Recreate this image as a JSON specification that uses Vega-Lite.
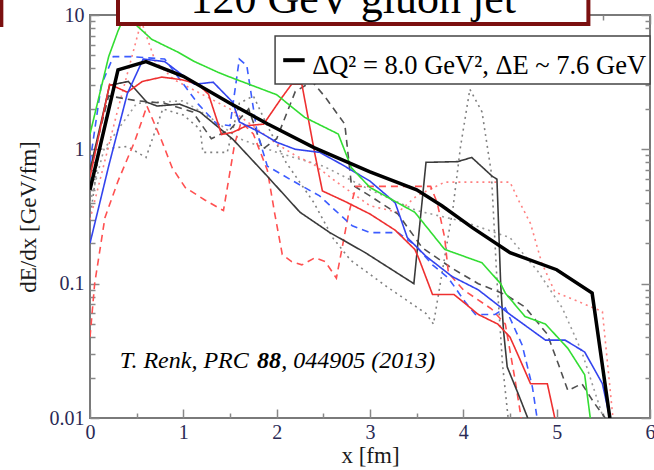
{
  "$schema": "https://vega.github.io/schema/vega-lite/v6.json",
  "width": 560,
  "height": 403,
  "autosize": {"type": "none"},
  "padding": {"left": 90, "top": 15, "right": 4, "bottom": 52},
  "background": "white",
  "config": {
    "font": "Liberation Serif, Times New Roman, serif",
    "view": {"stroke": "#7a7a7a", "strokeWidth": 2},
    "axis": {
      "domain": false, "grid": false, "tickColor": "#888888", "tickWidth": 1.5,
      "labelFont": "Liberation Serif, Times New Roman, serif", "labelFontSize": 20, "labelColor": "#2a2a55",
      "titleFont": "Liberation Serif, Times New Roman, serif", "titleFontSize": 23, "titleFontWeight": "normal", "titleColor": "#1a1a1a",
      "labelOverlap": false, "labelFlush": false, "labelBound": false
    }
  },
  "datasets": {
    "curves": [
      {"s":"graydot2","x":0,"y":0.4},{"s":"graydot2","x":0.15,"y":1.0},{"s":"graydot2","x":0.5,"y":2.2},{"s":"graydot2","x":1.0,"y":2.3},{"s":"graydot2","x":1.3,"y":1.7},{"s":"graydot2","x":1.6,"y":1.2},{"s":"graydot2","x":2.0,"y":0.95},{"s":"graydot2","x":2.5,"y":0.75},{"s":"graydot2","x":3.0,"y":0.5},{"s":"graydot2","x":3.5,"y":0.35},{"s":"graydot2","x":4.0,"y":0.29},{"s":"graydot2","x":4.5,"y":0.22},{"s":"graydot2","x":4.8,"y":0.123},{"s":"graydot2","x":5.06,"y":0.066},{"s":"graydot2","x":5.27,"y":0.031},{"s":"graydot2","x":5.49,"y":0.0105},
      {"s":"graydot1","x":0,"y":0.3},{"s":"graydot1","x":0.1,"y":1.0},{"s":"graydot1","x":0.4,"y":1.05},{"s":"graydot1","x":0.6,"y":0.87},{"s":"graydot1","x":0.78,"y":2.0},{"s":"graydot1","x":1.0,"y":1.8},{"s":"graydot1","x":1.18,"y":1.41},{"s":"graydot1","x":1.21,"y":0.95},{"s":"graydot1","x":1.47,"y":0.95},{"s":"graydot1","x":1.6,"y":2.2},{"s":"graydot1","x":1.75,"y":2.5},{"s":"graydot1","x":1.9,"y":1.5},{"s":"graydot1","x":2.1,"y":0.8},{"s":"graydot1","x":2.4,"y":0.4},{"s":"graydot1","x":2.6,"y":0.22},{"s":"graydot1","x":2.79,"y":0.15},{"s":"graydot1","x":3.18,"y":0.095},{"s":"graydot1","x":3.6,"y":0.06},{"s":"graydot1","x":3.68,"y":0.05},{"s":"graydot1","x":3.89,"y":0.37},{"s":"graydot1","x":3.97,"y":1.05},{"s":"graydot1","x":4.07,"y":2.8},{"s":"graydot1","x":4.2,"y":1.9},{"s":"graydot1","x":4.3,"y":0.67},{"s":"graydot1","x":4.36,"y":0.107},{"s":"graydot1","x":4.42,"y":0.025},{"s":"graydot1","x":4.48,"y":0.01},
      {"s":"pinkdot","x":0,"y":0.3},{"s":"pinkdot","x":0.3,"y":2.0},{"s":"pinkdot","x":0.55,"y":9.0},{"s":"pinkdot","x":0.7,"y":4.5},{"s":"pinkdot","x":0.9,"y":3.3},{"s":"pinkdot","x":1.5,"y":2.0},{"s":"pinkdot","x":2.0,"y":1.1},{"s":"pinkdot","x":2.2,"y":0.9},{"s":"pinkdot","x":2.4,"y":0.77},{"s":"pinkdot","x":2.6,"y":0.6},{"s":"pinkdot","x":3.0,"y":0.38},{"s":"pinkdot","x":3.3,"y":0.34},{"s":"pinkdot","x":3.5,"y":0.45},{"s":"pinkdot","x":3.8,"y":0.57},{"s":"pinkdot","x":4.5,"y":0.57},{"s":"pinkdot","x":4.59,"y":0.42},{"s":"pinkdot","x":4.72,"y":0.28},{"s":"pinkdot","x":4.84,"y":0.143},{"s":"pinkdot","x":4.98,"y":0.087},{"s":"pinkdot","x":5.49,"y":0.062},{"s":"pinkdot","x":5.6,"y":0.0105},
      {"s":"graydash","x":0,"y":0.7},{"s":"graydash","x":0.2,"y":2.5},{"s":"graydash","x":0.5,"y":2.3},{"s":"graydash","x":0.8,"y":2.2},{"s":"graydash","x":1.1,"y":1.9},{"s":"graydash","x":1.3,"y":1.2},{"s":"graydash","x":1.5,"y":1.4},{"s":"graydash","x":1.7,"y":2.0},{"s":"graydash","x":1.85,"y":1.0},{"s":"graydash","x":2.0,"y":1.2},{"s":"graydash","x":2.2,"y":2.7},{"s":"graydash","x":2.38,"y":3.2},{"s":"graydash","x":2.52,"y":2.45},{"s":"graydash","x":2.73,"y":1.54},{"s":"graydash","x":2.8,"y":0.55},{"s":"graydash","x":3.0,"y":0.45},{"s":"graydash","x":3.3,"y":0.33},{"s":"graydash","x":3.56,"y":0.185},{"s":"graydash","x":3.88,"y":0.13},{"s":"graydash","x":4.16,"y":0.1},{"s":"graydash","x":4.45,"y":0.083},{"s":"graydash","x":4.66,"y":0.067},{"s":"graydash","x":4.9,"y":0.042},{"s":"graydash","x":5.02,"y":0.025},{"s":"graydash","x":5.12,"y":0.016},{"s":"graydash","x":5.27,"y":0.018},{"s":"graydash","x":5.4,"y":0.013},{"s":"graydash","x":5.52,"y":0.01},
      {"s":"reddash","x":0,"y":0.04},{"s":"reddash","x":0.05,"y":0.1},{"s":"reddash","x":0.16,"y":0.31},{"s":"reddash","x":0.3,"y":0.58},{"s":"reddash","x":0.48,"y":1.15},{"s":"reddash","x":0.61,"y":2.1},{"s":"reddash","x":0.77,"y":1.15},{"s":"reddash","x":0.88,"y":0.73},{"s":"reddash","x":1.02,"y":0.52},{"s":"reddash","x":1.23,"y":0.42},{"s":"reddash","x":1.43,"y":0.35},{"s":"reddash","x":1.55,"y":1.1},{"s":"reddash","x":1.62,"y":1.6},{"s":"reddash","x":1.75,"y":1.3},{"s":"reddash","x":1.9,"y":0.7},{"s":"reddash","x":1.98,"y":0.33},{"s":"reddash","x":2.06,"y":0.165},{"s":"reddash","x":2.16,"y":0.146},{"s":"reddash","x":2.27,"y":0.138},{"s":"reddash","x":2.41,"y":0.156},{"s":"reddash","x":2.52,"y":0.146},{"s":"reddash","x":2.64,"y":0.11},{"s":"reddash","x":2.77,"y":0.33},{"s":"reddash","x":2.85,"y":0.53},{"s":"reddash","x":3.1,"y":0.53},{"s":"reddash","x":3.65,"y":0.53},{"s":"reddash","x":3.72,"y":0.4},{"s":"reddash","x":3.8,"y":0.22},{"s":"reddash","x":3.84,"y":0.12},{"s":"reddash","x":4.0,"y":0.09},{"s":"reddash","x":4.3,"y":0.065},{"s":"reddash","x":4.45,"y":0.05},{"s":"reddash","x":4.55,"y":0.02},{"s":"reddash","x":4.62,"y":0.01},
      {"s":"bluedash","x":0,"y":0.8},{"s":"bluedash","x":0.12,"y":3.0},{"s":"bluedash","x":0.25,"y":4.9},{"s":"bluedash","x":0.45,"y":4.9},{"s":"bluedash","x":0.8,"y":4.7},{"s":"bluedash","x":0.98,"y":3.2},{"s":"bluedash","x":1.16,"y":2.17},{"s":"bluedash","x":1.36,"y":1.54},{"s":"bluedash","x":1.5,"y":1.5},{"s":"bluedash","x":1.6,"y":4.7},{"s":"bluedash","x":1.68,"y":4.2},{"s":"bluedash","x":1.79,"y":1.34},{"s":"bluedash","x":1.9,"y":0.75},{"s":"bluedash","x":2.14,"y":0.6},{"s":"bluedash","x":2.46,"y":0.45},{"s":"bluedash","x":2.63,"y":0.35},{"s":"bluedash","x":2.81,"y":0.27},{"s":"bluedash","x":3.0,"y":0.24},{"s":"bluedash","x":3.3,"y":0.24},{"s":"bluedash","x":3.41,"y":0.21},{"s":"bluedash","x":3.48,"y":0.195},{"s":"bluedash","x":3.67,"y":0.138},{"s":"bluedash","x":3.84,"y":0.11},{"s":"bluedash","x":4.02,"y":0.073},{"s":"bluedash","x":4.13,"y":0.059},{"s":"bluedash","x":4.34,"y":0.059},{"s":"bluedash","x":4.45,"y":0.066},{"s":"bluedash","x":4.63,"y":0.035},{"s":"bluedash","x":4.74,"y":0.017},{"s":"bluedash","x":4.79,"y":0.01},
      {"s":"black","x":0,"y":0.7},{"s":"black","x":0.21,"y":3.0},{"s":"black","x":0.41,"y":3.2},{"s":"black","x":0.61,"y":2.24},{"s":"black","x":0.72,"y":2.1},{"s":"black","x":0.96,"y":2.17},{"s":"black","x":1.18,"y":1.89},{"s":"black","x":1.53,"y":1.19},{"s":"black","x":1.9,"y":0.63},{"s":"black","x":2.25,"y":0.34},{"s":"black","x":2.57,"y":0.24},{"s":"black","x":2.95,"y":0.17},{"s":"black","x":3.47,"y":0.1},{"s":"black","x":3.6,"y":0.8},{"s":"black","x":3.94,"y":0.81},{"s":"black","x":4.09,"y":0.87},{"s":"black","x":4.31,"y":0.63},{"s":"black","x":4.36,"y":0.6},{"s":"black","x":4.4,"y":0.1},{"s":"black","x":4.43,"y":0.045},{"s":"black","x":4.47,"y":0.024},{"s":"black","x":4.59,"y":0.015},{"s":"black","x":4.69,"y":0.01},
      {"s":"red","x":0,"y":0.62},{"s":"red","x":0.21,"y":3.05},{"s":"red","x":0.4,"y":2.66},{"s":"red","x":0.56,"y":3.2},{"s":"red","x":0.77,"y":3.45},{"s":"red","x":0.98,"y":3.3},{"s":"red","x":1.16,"y":3.05},{"s":"red","x":1.27,"y":2.57},{"s":"red","x":1.41,"y":1.29},{"s":"red","x":1.53,"y":1.34},{"s":"red","x":1.68,"y":1.5},{"s":"red","x":1.86,"y":1.54},{"s":"red","x":2.05,"y":2.4},{"s":"red","x":2.16,"y":3.05},{"s":"red","x":2.27,"y":3.05},{"s":"red","x":2.41,"y":0.92},{"s":"red","x":2.49,"y":0.49},{"s":"red","x":2.73,"y":0.41},{"s":"red","x":3.0,"y":0.33},{"s":"red","x":3.27,"y":0.25},{"s":"red","x":3.48,"y":0.18},{"s":"red","x":3.52,"y":0.156},{"s":"red","x":3.67,"y":0.083},{"s":"red","x":3.9,"y":0.083},{"s":"red","x":4.0,"y":0.073},{"s":"red","x":4.16,"y":0.059},{"s":"red","x":4.37,"y":0.05},{"s":"red","x":4.5,"y":0.04},{"s":"red","x":4.59,"y":0.029},{"s":"red","x":4.72,"y":0.018},{"s":"red","x":4.9,"y":0.018},{"s":"red","x":4.98,"y":0.01},
      {"s":"blue","x":0,"y":0.2},{"s":"blue","x":0.2,"y":0.75},{"s":"blue","x":0.4,"y":2.6},{"s":"blue","x":0.57,"y":4.7},{"s":"blue","x":0.8,"y":4.5},{"s":"blue","x":1.12,"y":3.05},{"s":"blue","x":1.32,"y":3.16},{"s":"blue","x":1.53,"y":2.24},{"s":"blue","x":1.6,"y":1.6},{"s":"blue","x":1.82,"y":1.34},{"s":"blue","x":2.0,"y":1.13},{"s":"blue","x":2.2,"y":1.0},{"s":"blue","x":2.46,"y":0.95},{"s":"blue","x":2.7,"y":0.77},{"s":"blue","x":3.0,"y":0.58},{"s":"blue","x":3.27,"y":0.4},{"s":"blue","x":3.4,"y":0.22},{"s":"blue","x":3.6,"y":0.16},{"s":"blue","x":3.88,"y":0.113},{"s":"blue","x":4.16,"y":0.09},{"s":"blue","x":4.5,"y":0.059},{"s":"blue","x":4.88,"y":0.038},{"s":"blue","x":5.09,"y":0.038},{"s":"blue","x":5.3,"y":0.031},{"s":"blue","x":5.49,"y":0.018},{"s":"blue","x":5.57,"y":0.01},
      {"s":"green","x":0,"y":1.3},{"s":"green","x":0.2,"y":4.9},{"s":"green","x":0.3,"y":7.6},{"s":"green","x":0.4,"y":11},{"s":"green","x":0.48,"y":8.6},{"s":"green","x":0.66,"y":6.6},{"s":"green","x":0.94,"y":5.3},{"s":"green","x":1.12,"y":4.5},{"s":"green","x":1.37,"y":3.75},{"s":"green","x":1.5,"y":3.45},{"s":"green","x":2.0,"y":2.55},{"s":"green","x":2.3,"y":1.73},{"s":"green","x":2.66,"y":1.3},{"s":"green","x":2.8,"y":0.73},{"s":"green","x":3.0,"y":0.52},{"s":"green","x":3.48,"y":0.34},{"s":"green","x":3.8,"y":0.18},{"s":"green","x":4.2,"y":0.143},{"s":"green","x":4.4,"y":0.1},{"s":"green","x":4.45,"y":0.085},{"s":"green","x":4.66,"y":0.057},{"s":"green","x":4.88,"y":0.05},{"s":"green","x":5.12,"y":0.033},{"s":"green","x":5.3,"y":0.021},{"s":"green","x":5.36,"y":0.01},
      {"s":"thick","x":0,"y":0.5},{"s":"thick","x":0.3,"y":3.9},{"s":"thick","x":0.6,"y":4.5},{"s":"thick","x":1.0,"y":3.5},{"s":"thick","x":1.5,"y":2.2},{"s":"thick","x":1.9,"y":1.55},{"s":"thick","x":2.4,"y":1.03},{"s":"thick","x":3.0,"y":0.68},{"s":"thick","x":3.5,"y":0.5},{"s":"thick","x":3.77,"y":0.38},{"s":"thick","x":4.1,"y":0.26},{"s":"thick","x":4.5,"y":0.17},{"s":"thick","x":5.0,"y":0.127},{"s":"thick","x":5.38,"y":0.085},{"s":"thick","x":5.57,"y":0.01}
    ]
  },
  "resolve": {"axis": {"x": "independent", "y": "independent"}},
  "layer": [
    {
      "data": {"name": "curves"},
      "transform": [{"filter": "datum.s !== 'thick'"}],
      "mark": {"type": "line", "clip": true},
      "encoding": {
        "x": {"field": "x", "type": "quantitative", "scale": {"domain": [0, 6], "nice": false, "zero": false},
              "axis": {"orient": "bottom", "values": [0,1,2,3,4,5,6], "offset": -9, "tickSize": 9, "labelPadding": 4, "title": "x [fm]", "titlePadding": 2, "labelOverlap": false}},
        "y": {"field": "y", "type": "quantitative", "scale": {"type": "log", "domain": [0.01, 10], "nice": false},
              "axis": {"orient": "left", "values": [0.01, 0.1, 1, 10], "offset": -9, "tickSize": 9, "labelPadding": 6, "labelExpr": "datum.value + ''", "labelOverlap": false, "title": "dE/dx [GeV/fm]", "titlePadding": 9}},
        "color": {"field": "s", "type": "nominal", "legend": null,
                  "scale": {"domain": ["graydot2","graydot1","pinkdot","graydash","reddash","bluedash","black","red","blue","green"],
                            "range": ["#999999","#808080","#ff8080","#505050","#ff5050","#3c5cff","#3a3a3a","#ee3030","#3344ee","#33dd33"]}},
        "strokeDash": {"field": "s", "type": "nominal", "legend": null,
                  "scale": {"domain": ["graydot2","graydot1","pinkdot","graydash","reddash","bluedash","black","red","blue","green"],
                            "range": [[2,4],[2,4],[2,4],[7,5],[7,5],[7,5],[1,0],[1,0],[1,0],[1,0]]}},
        "strokeWidth": {"field": "s", "type": "nominal", "legend": null,
                  "scale": {"domain": ["graydot2","graydot1","pinkdot","graydash","reddash","bluedash","black","red","blue","green"],
                            "range": [1.6,1.6,1.6,1.4,1.8,1.8,1.7,1.7,1.7,1.7]}}
      }
    },
    {
      "data": {"name": "curves"},
      "transform": [{"filter": "datum.s === 'thick'"}],
      "mark": {"type": "line", "clip": true, "color": "#000000", "strokeWidth": 3.5},
      "encoding": {
        "x": {"field": "x", "type": "quantitative", "scale": {"domain": [0, 6], "nice": false, "zero": false},
              "axis": {"orient": "top", "values": [0,1,2,3,4,5,6], "offset": -9, "tickSize": 9, "labels": false, "title": null}},
        "y": {"field": "y", "type": "quantitative", "scale": {"type": "log", "domain": [0.01, 10], "nice": false},
              "axis": {"orient": "right", "values": [0.01, 0.1, 1, 10], "offset": -9, "tickSize": 9, "labels": false, "title": null}}
      }
    },
    {
      "data": {"values": [{}]},
      "mark": {"type": "rect", "fill": "white", "stroke": "#7b1010", "strokeWidth": 4},
      "encoding": {
        "x": {"datum": 0.3, "type": "quantitative", "scale": {"domain": [0, 6], "nice": false, "zero": false},
              "axis": {"orient": "bottom", "values": [0.5,1.5,2.5,3.5,4.5,5.5], "offset": -5, "tickSize": 5, "labels": false, "title": null}},
        "x2": {"datum": 5.34},
        "y": {"datum": 8.57, "type": "quantitative", "scale": {"type": "log", "domain": [0.01, 10], "nice": false},
              "axis": {"orient": "left", "values": [0.02,0.03,0.04,0.05,0.06,0.07,0.08,0.09,0.2,0.3,0.4,0.5,0.6,0.7,0.8,0.9,2,3,4,5,6,7,8,9], "offset": -5, "tickSize": 5, "labels": false, "title": null}},
        "y2": {"datum": 1000}
      }
    },
    {
      "data": {"values": [{}]},
      "mark": {"type": "rect", "fill": "white", "stroke": "#7b1010", "strokeWidth": 4},
      "encoding": {
        "x": {"datum": -3, "type": "quantitative", "scale": {"domain": [0, 6], "nice": false, "zero": false},
              "axis": {"orient": "top", "values": [0.5,1.5,2.5,3.5,4.5,5.5], "offset": -5, "tickSize": 5, "labels": false, "title": null}},
        "x2": {"datum": -0.95},
        "y": {"datum": 8.42, "type": "quantitative", "scale": {"type": "log", "domain": [0.01, 10], "nice": false},
              "axis": {"orient": "right", "values": [0.02,0.03,0.04,0.05,0.06,0.07,0.08,0.09,0.2,0.3,0.4,0.5,0.6,0.7,0.8,0.9,2,3,4,5,6,7,8,9], "offset": -5, "tickSize": 5, "labels": false, "title": null}},
        "y2": {"datum": 1000}
      }
    },
    {
      "data": {"values": [{}]},
      "mark": {"type": "text", "font": "Liberation Serif, Times New Roman, serif", "fontSize": 44, "align": "center", "baseline": "alphabetic", "color": "#000000"},
      "encoding": {
        "x": {"datum": 2.82, "type": "quantitative", "scale": {"domain": [0, 6], "nice": false, "zero": false}, "axis": null},
        "y": {"datum": 10.3, "type": "quantitative", "scale": {"type": "log", "domain": [0.01, 10], "nice": false}, "axis": null},
        "text": {"value": "120 GeV gluon jet"}
      }
    },
    {
      "data": {"values": [{}]},
      "mark": {"type": "rect", "fill": "white", "stroke": "#444444", "strokeWidth": 1.5},
      "encoding": {
        "x": {"datum": 1.983, "type": "quantitative", "scale": {"domain": [0, 6], "nice": false, "zero": false}, "axis": null},
        "x2": {"datum": 6.0},
        "y": {"datum": 6.97, "type": "quantitative", "scale": {"type": "log", "domain": [0.01, 10], "nice": false}, "axis": null},
        "y2": {"datum": 3.06}
      }
    },
    {
      "data": {"values": [{}]},
      "mark": {"type": "rule", "color": "#000000", "strokeWidth": 4},
      "encoding": {
        "x": {"datum": 2.07, "type": "quantitative", "scale": {"domain": [0, 6], "nice": false, "zero": false}, "axis": null},
        "x2": {"datum": 2.3},
        "y": {"datum": 4.61, "type": "quantitative", "scale": {"type": "log", "domain": [0.01, 10], "nice": false}, "axis": null}
      }
    },
    {
      "data": {"values": [{}]},
      "mark": {"type": "text", "font": "Liberation Serif, Times New Roman, serif", "fontSize": 26.5, "align": "left", "baseline": "alphabetic", "color": "#000000"},
      "encoding": {
        "x": {"datum": 2.38, "type": "quantitative", "scale": {"domain": [0, 6], "nice": false, "zero": false}, "axis": null},
        "y": {"datum": 3.63, "type": "quantitative", "scale": {"type": "log", "domain": [0.01, 10], "nice": false}, "axis": null},
        "text": {"value": "ΔQ² = 8.0 GeV², ΔE ~ 7.6 GeV"}
      }
    },
    {
      "data": {"values": [{}]},
      "mark": {"type": "text", "font": "Liberation Serif, Times New Roman, serif", "fontSize": 24, "fontStyle": "italic", "align": "left", "baseline": "alphabetic", "color": "#000000"},
      "encoding": {
        "x": {"datum": 0.32, "type": "quantitative", "scale": {"domain": [0, 6], "nice": false, "zero": false}, "axis": null},
        "y": {"datum": 0.0236, "type": "quantitative", "scale": {"type": "log", "domain": [0.01, 10], "nice": false}, "axis": null},
        "text": {"value": "T. Renk, PRC "}
      }
    },
    {
      "data": {"values": [{}]},
      "mark": {"type": "text", "font": "Liberation Serif, Times New Roman, serif", "fontSize": 24, "fontStyle": "italic", "fontWeight": "bold", "align": "left", "baseline": "alphabetic", "color": "#000000"},
      "encoding": {
        "x": {"datum": 1.79, "type": "quantitative", "scale": {"domain": [0, 6], "nice": false, "zero": false}, "axis": null},
        "y": {"datum": 0.0236, "type": "quantitative", "scale": {"type": "log", "domain": [0.01, 10], "nice": false}, "axis": null},
        "text": {"value": "88"}
      }
    },
    {
      "data": {"values": [{}]},
      "mark": {"type": "text", "font": "Liberation Serif, Times New Roman, serif", "fontSize": 24, "fontStyle": "italic", "align": "left", "baseline": "alphabetic", "color": "#000000"},
      "encoding": {
        "x": {"datum": 2.05, "type": "quantitative", "scale": {"domain": [0, 6], "nice": false, "zero": false}, "axis": null},
        "y": {"datum": 0.0236, "type": "quantitative", "scale": {"type": "log", "domain": [0.01, 10], "nice": false}, "axis": null},
        "text": {"value": ", 044905 (2013)"}
      }
    }
  ]
}
